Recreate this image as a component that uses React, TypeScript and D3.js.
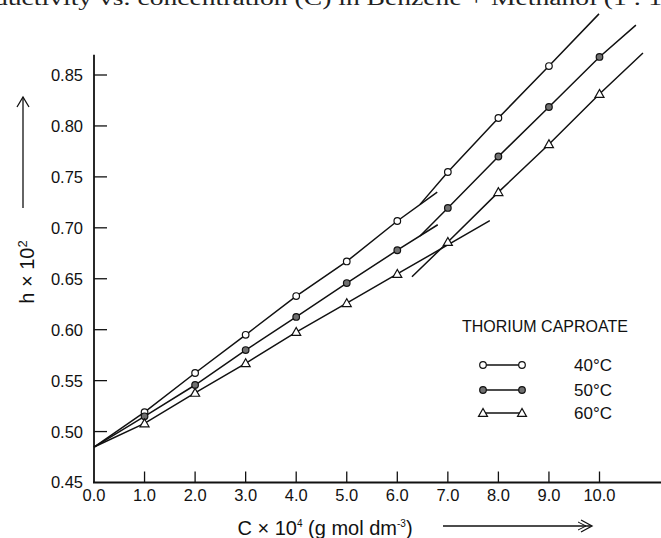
import React from 'react';
import * as d3 from 'd3';

// ---- data ----
const concentration = [1, 2, 3, 4, 5, 6, 7, 8, 9, 10];
const h40 = [0.519, 0.5575, 0.595, 0.633, 0.667, 0.7067, 0.7548, 0.8078, 0.8588];
const h50 = [0.515, 0.5457, 0.58, 0.6125, 0.6458, 0.678, 0.7195, 0.77, 0.8186, 0.8677];
const h60 = [0.508, 0.538, 0.567, 0.5977, 0.626, 0.6547, 0.686, 0.735, 0.782, 0.8313];
const interceptH = 0.4848;
const breakIndex = 6; // points 1..6 lie on the pre-CMC line
// fitted line ends [C, h]
const lowerEnd40 = [6.79, 0.735];
const upperStart40 = [6.45, 0.723];
const upperEnd40 = [9.99, 0.91];
const lowerEnd50 = [6.8, 0.703];
const upperStart50 = [6.45, 0.692];
const upperEnd50 = [10.72, 0.899];
const lowerEnd60 = [7.83, 0.707];
const upperStart60 = [6.29, 0.652];
const upperEnd60 = [10.86, 0.8716];

const xTickValues = [0, 1, 2, 3, 4, 5, 6, 7, 8, 9, 10];
const yTickValues = [0.45, 0.5, 0.55, 0.6, 0.65, 0.7, 0.75, 0.8, 0.85];
const seriesLabels = ['40\u00B0C', '50\u00B0C', '60\u00B0C'];
const legendTitle = 'THORIUM CAPROATE';
const headerText = 'ductivity vs. concentration (C) in Benzene + Methanol (1 : 1';

const W = 661;
const H = 538;
const FONT = '"Liberation Sans", Arial, Helvetica, sans-serif';

type Pt = [number, number];

export default function App() {
  const x = d3.scaleLinear().domain([0, 10]).range([94, 599.5]);
  const y = d3.scaleLinear().domain([0.45, 0.85]).range([482.5, 75]);
  const line = d3
    .line<Pt>()
    .x((d) => x(d[0]))
    .y((d) => y(d[1]));

  const series = [
    { label: seriesLabels[0], values: h40, marker: 'open', lowerEnd: lowerEnd40, upperStart: upperStart40, upperEnd: upperEnd40 },
    { label: seriesLabels[1], values: h50, marker: 'filled', lowerEnd: lowerEnd50, upperStart: upperStart50, upperEnd: upperEnd50 },
    { label: seriesLabels[2], values: h60, marker: 'tri', lowerEnd: lowerEnd60, upperStart: upperStart60, upperEnd: upperEnd60 },
  ];

  const marker = (kind: string, cx: number, cy: number, key: string) => {
    if (kind === 'tri') {
      const s = 4.5;
      const pts = `${cx},${cy - s} ${cx - s},${cy + s * 0.75} ${cx + s},${cy + s * 0.75}`;
      return <polygon key={key} points={pts} fill="#fff" stroke="#111" strokeWidth={1.2} />;
    }
    return (
      <circle
        key={key}
        cx={cx}
        cy={cy}
        r={3.3}
        fill={kind === 'filled' ? '#707070' : '#fff'}
        stroke="#111"
        strokeWidth={1.2}
      />
    );
  };

  const yAxisTop = y(0.87);
  const xAxisRight = W;

  return (
    <svg
      width={W}
      height={H}
      viewBox={`0 0 ${W} ${H}`}
      style={{ position: 'absolute', left: 0, top: 0, background: '#fff' }}
      fontFamily={FONT}
    >
      {/* clipped header line of the scanned page */}
      <text x={-6} y={5} fontFamily='"Liberation Serif", "DejaVu Serif", serif' fontSize={20} textLength={668} lengthAdjust="spacingAndGlyphs" fill="#222">
        {headerText}
      </text>

      {/* axes */}
      <line x1={x(0)} x2={x(0)} y1={y(0.45)} y2={yAxisTop} stroke="#111" strokeWidth={1.8} />
      <line x1={x(0) - 1} x2={xAxisRight} y1={y(0.45)} y2={y(0.45)} stroke="#111" strokeWidth={1.8} />

      {yTickValues.map((v) => (
        <g key={`yt${v}`}>
          {v > 0.45 && <line x1={x(0)} x2={x(0) + 13} y1={y(v)} y2={y(v)} stroke="#111" strokeWidth={1.3} />}
          <text x={x(0) - 11} y={y(v)} dy="0.36em" textAnchor="end" fontSize={16.5} fill="#111">
            {v.toFixed(2)}
          </text>
        </g>
      ))}
      {xTickValues.map((v) => (
        <g key={`xt${v}`}>
          {v > 0 && <line x1={x(v)} x2={x(v)} y1={y(0.45)} y2={y(0.45) - 11} stroke="#111" strokeWidth={1.3} />}
          <text x={x(v)} y={501} textAnchor="middle" fontSize={16.5} fill="#111">
            {v.toFixed(1)}
          </text>
        </g>
      ))}

      {/* y axis title + arrow */}
      <text transform="translate(34,272) rotate(-90)" textAnchor="middle" fontSize={20} fill="#111">
        h × 10<tspan dy={-7} fontSize={13}>2</tspan>
      </text>
      <line x1={23} x2={23} y1={208} y2={97} stroke="#111" strokeWidth={1.3} />
      <polyline points="17,107 23,97 29,107" fill="none" stroke="#111" strokeWidth={1.3} />

      {/* x axis title + arrow */}
      <text x={325} y={535} textAnchor="middle" fontSize={20} fill="#111">
        C × 10<tspan dy={-8} fontSize={10}>4</tspan>
        <tspan dy={8}> (g mol dm</tspan>
        <tspan dy={-8} fontSize={10}>-3</tspan>
        <tspan dy={8}>)</tspan>
      </text>
      <line x1={443} x2={591} y1={526} y2={526} stroke="#111" strokeWidth={1.3} />
      <polyline points="581,520 592,526 581,532" fill="none" stroke="#111" strokeWidth={1.3} />
      <polyline points="578,522 586,526 578,530" fill="none" stroke="#111" strokeWidth={1} />

      {/* data lines */}
      {series.map((s) => {
        const pts: Pt[] = s.values.map((v, i) => [concentration[i], v] as Pt);
        const lower: Pt[] = [[0, interceptH], ...pts.slice(0, breakIndex), s.lowerEnd as Pt];
        const upper: Pt[] = [s.upperStart as Pt, ...pts.slice(breakIndex), s.upperEnd as Pt];
        return (
          <g key={`l${s.label}`} fill="none" stroke="#111" strokeWidth={1.5}>
            <path d={line(lower) || ''} />
            <path d={line(upper) || ''} />
          </g>
        );
      })}
      {series.map((s) => (
        <g key={`m${s.label}`}>
          {s.values.map((v, i) => marker(s.marker, x(concentration[i]), y(v), `${s.label}${i}`))}
        </g>
      ))}

      {/* legend */}
      <text x={462} y={326} dy="0.36em" fontSize={16} fill="#111">
        {legendTitle}
      </text>
      {series.map((s, i) => {
        const ly = [365, 390, 413][i];
        return (
          <g key={`lg${s.label}`}>
            <line x1={483} x2={522} y1={ly} y2={ly} stroke="#111" strokeWidth={1.3} />
            {marker(s.marker, 483, ly, `lga${i}`)}
            {marker(s.marker, 522, ly, `lgb${i}`)}
            <text x={574} y={ly} dy="0.36em" fontSize={17} fill="#111">
              {s.label}
            </text>
          </g>
        );
      })}
    </svg>
  );
}
